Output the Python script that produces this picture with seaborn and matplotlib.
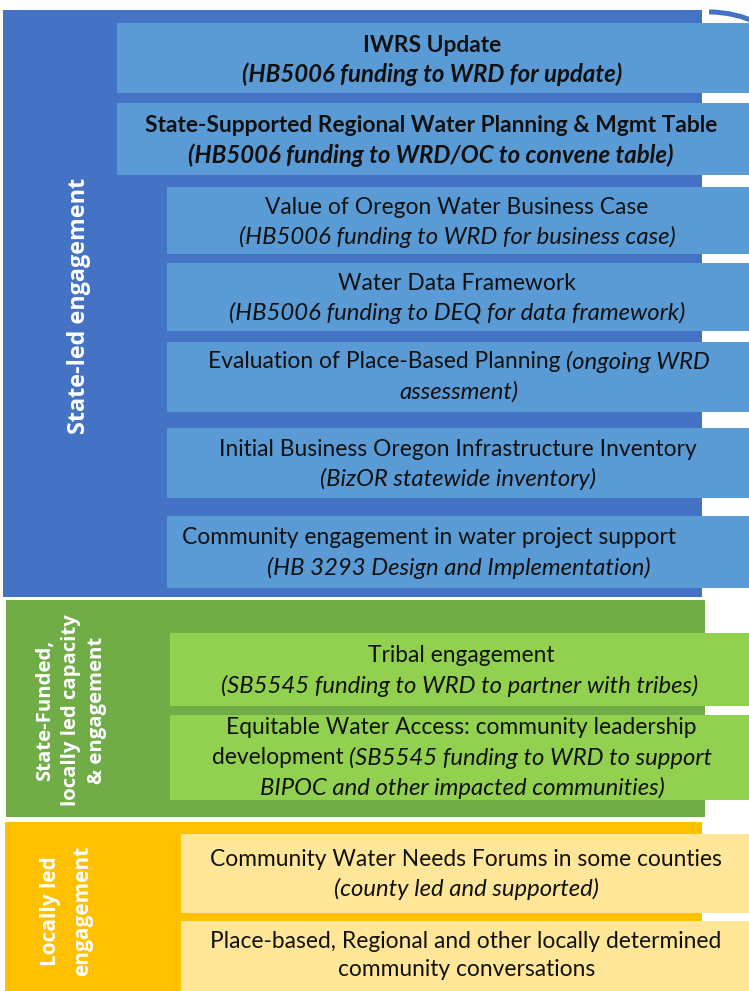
import matplotlib
matplotlib.use("Agg")
import matplotlib.pyplot as plt
import seaborn as sns
from matplotlib.patches import Arc

sns.set_theme(style="white")
plt.rcParams['font.family'] = ['Lato', 'DejaVu Sans']

# ---- content ----
band_labels = ["State-led engagement",
               "State-Funded,\nlocally led capacity\n& engagement",
               "Locally led\nengagement"]

# each box: list of lines; each line: list of (text, style) segments
# styles: 'r' regular, 'i' italic, 'b' bold, 'bi' bold italic
box_texts = [
    [[("IWRS Update", "b")], [("(HB5006 funding to WRD for update)", "bi")]],
    [[("State-Supported Regional Water Planning & Mgmt Table", "b")],
     [("(HB5006 funding to WRD/OC to convene table)", "bi")]],
    [[("Value of Oregon Water Business Case", "r")],
     [("(HB5006 funding to WRD for business case)", "i")]],
    [[("Water Data Framework", "r")],
     [("(HB5006 funding to DEQ for data framework)", "i")]],
    [[("Evaluation of Place-Based Planning ", "r"), ("(ongoing WRD", "i")],
     [("assessment)", "i")]],
    [[("Initial Business Oregon Infrastructure Inventory", "r")],
     [("(BizOR statewide inventory)", "i")]],
    [[("Community engagement in water project support", "r")],
     [("(HB 3293 Design and Implementation)", "i")]],
    [[("Tribal engagement", "r")],
     [("(SB5545 funding to WRD to partner with tribes)", "i")]],
    [[("Equitable Water Access: community leadership", "r")],
     [("development ", "r"), ("(SB5545 funding to WRD to support", "i")],
     [("BIPOC and other impacted communities)", "i")]],
    [[("Community Water Needs Forums in some counties", "r")],
     [("(county led and supported)", "i")]],
    [[("Place-based, Regional and other locally determined", "r")],
     [("community conversations", "r")]],
]
box_band = [0, 0, 0, 0, 0, 0, 0, 1, 1, 2, 2]

# ---- layout (pixel space) ----
W, H = 749, 991
band_x0 = [3, 6, 5]
band_x1 = [702, 705, 702]
band_y0 = [10, 600, 822]
band_y1 = [597, 817, 991]
band_colors = ["#4472C4", "#70AD47", "#FFC000"]
box_colors = ["#5B9BD5", "#92D050", "#FFE699"]
band_label_xy = [(79, 306), (71, 710), (67, 911)]
band_label_fs = [16.8, 14.6, 15.0]
band_label_ls = [1.2, 1.38, 1.7]

box_x0 = [117, 117, 167, 167, 167, 167, 167, 170, 170, 181, 181]
box_y0 = [23, 103, 187, 263, 342, 428, 516, 633, 715, 834, 921]
box_y1 = [93, 175, 254, 331, 412, 498, 588, 706, 800, 913, 991]
line_y = [[45, 74], [126, 155], [207, 237], [283, 313], [362, 392],
          [450, 479], [538, 568], [656, 686], [728, 758, 788],
          [859, 889], [941, 970]]
line_cx = [[432, 432], [431, 431], [457, 457], [457, 457], [459, 459],
           [458, 458], [429, 459], [461, 460], [461, 462, 462],
           [466, 466], [466, 467]]

fig = plt.figure(figsize=(W / 100, H / 100), dpi=100)
ax = fig.add_axes([0, 0, 1, 1])
ax.set_xlim(0, W)
ax.set_ylim(H, 0)
ax.axis("off")

# top-right arc (partly hidden behind the first box)
ax.add_patch(Arc((709, 83), 180, 142, theta1=270, theta2=340,
                 color="#4472C4", lw=3.6, zorder=0.5))

# bands
for i in range(3):
    ax.bar(band_x0[i], band_y1[i] - band_y0[i], width=band_x1[i] - band_x0[i],
           bottom=band_y0[i], align="edge", color=band_colors[i], linewidth=0)

# boxes
for k in range(len(box_texts)):
    b = box_band[k]
    ax.bar(box_x0[k], box_y1[k] - box_y0[k], width=W - box_x0[k],
           bottom=box_y0[k], align="edge", color=box_colors[b], linewidth=0)

# band labels
for i, lab in enumerate(band_labels):
    ax.text(*band_label_xy[i], lab, rotation=90, ha="center", va="center",
            color="white", fontsize=band_label_fs[i], fontweight="bold",
            family=["Open Sans", "DejaVu Sans"],
            linespacing=band_label_ls[i], multialignment="center")

renderer = fig.canvas.get_renderer()
style_map = {"r": ("normal", "normal", 16.4), "i": ("normal", "italic", 17.2),
             "b": ("bold", "normal", 16.4), "bi": ("bold", "italic", 17.3)}

for k, lines in enumerate(box_texts):
    for li, segs in enumerate(lines):
        objs = []
        for txt, st in segs:
            w_, s_, fs_ = style_map[st]
            t = ax.text(0, line_y[k][li], txt, ha="left", va="center",
                        fontsize=fs_, fontweight=w_, fontstyle=s_,
                        color="#111111")
            objs.append(t)
        widths = [t.get_window_extent(renderer).width for t in objs]
        total = sum(widths)
        x = line_cx[k][li] - total / 2
        for t, wd in zip(objs, widths):
            t.set_x(x)
            x += wd

fig.savefig("out.png", dpi=100)
